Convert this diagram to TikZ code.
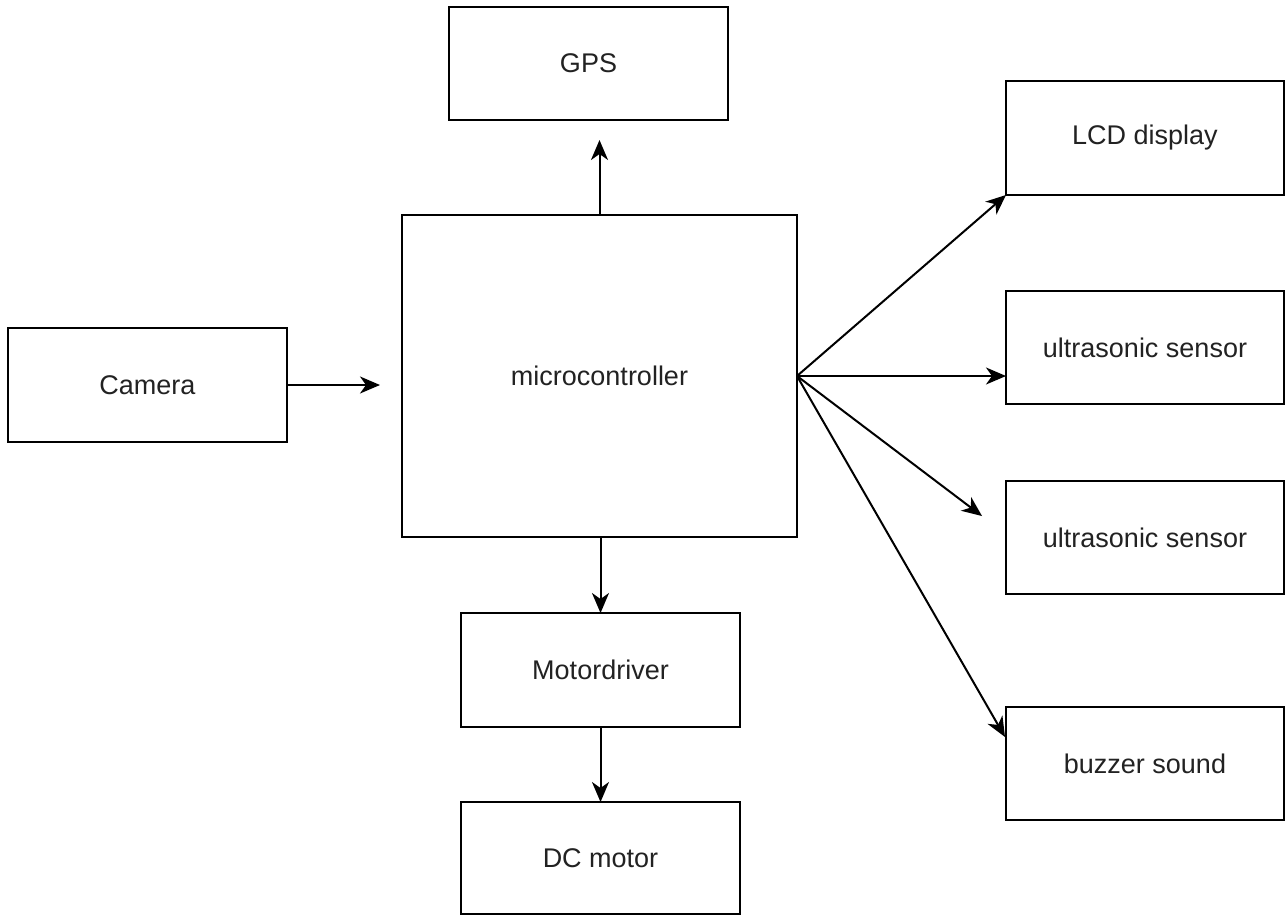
\documentclass[tikz,border=0pt]{standalone}
\usepackage{fontspec}
\setmainfont{Liberation Sans}
\usetikzlibrary{arrows.meta}
\definecolor{txt}{HTML}{222222}
\tikzset{
  blk/.style={draw=black, line width=2pt, fill=white, inner sep=0pt, outer sep=0pt,
    font=\fontsize{27}{32}\selectfont, text=txt, align=center},
  conn/.style={draw=black, line width=2pt, -{Stealth[length=20pt,width=17pt,inset=6pt]}}
}
\begin{document}
\begin{tikzpicture}[x=1pt,y=-1pt]
\useasboundingbox (0,0) rectangle (1287,916);
\node[blk, minimum width=279pt, minimum height=113pt] (gps) at (588.5,63.5) {GPS};
\node[blk, minimum width=278pt, minimum height=114pt] (lcd) at (1145,138) {LCD display};
\node[blk, minimum width=278pt, minimum height=113pt] (us1) at (1145,347.5) {ultrasonic sensor};
\node[blk, minimum width=278pt, minimum height=113pt] (us2) at (1145,537.5) {ultrasonic sensor};
\node[blk, minimum width=278pt, minimum height=113pt] (buzz) at (1145,763.5) {buzzer sound};
\node[blk, minimum width=279pt, minimum height=114pt] (cam) at (147.5,385) {Camera};
\node[blk, minimum width=395pt, minimum height=322pt] (mc) at (599.5,376) {microcontroller};
\node[blk, minimum width=279pt, minimum height=114pt] (md) at (600.5,670) {Motordriver};
\node[blk, minimum width=279pt, minimum height=112pt] (dc) at (600.5,858) {DC motor};

\coordinate (camend) at (380,385);
\coordinate (gpsend) at (599.5,140);
\coordinate (us2end) at (982,516);
\coordinate (buzzend) at (1005,737);

\draw[conn] (cam.east |- camend) -- (camend);
\draw[conn] (mc.north) -- (gpsend);
\draw[conn] (mc.south -| md.north) -- (md.north);
\draw[conn] (md.south) -- (dc.north);
\draw[conn] (mc.east) -- (lcd.south west);
\draw[conn] (mc.east) -- (mc.east -| us1.west);
\draw[conn] (mc.east) -- (us2end);
\draw[conn] (mc.east) -- (buzzend);
\end{tikzpicture}
\end{document}
